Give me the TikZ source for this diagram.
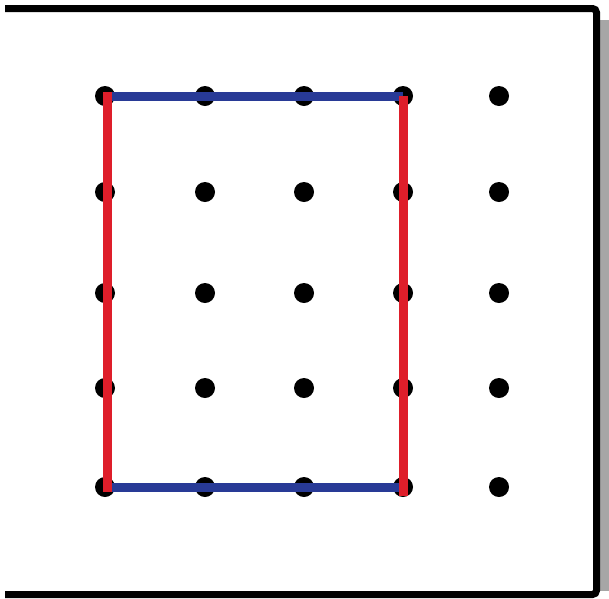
\documentclass[tikz,border=0pt]{standalone}
\usepackage{tikz}
\usetikzlibrary{positioning}
\definecolor{pegred}{RGB}{222,30,42}
\definecolor{pegblue}{RGB}{40,58,150}

\begin{document}
\begin{tikzpicture}[x=1pt,y=-1pt,peg/.style={circle,fill=black,inner sep=0pt,minimum size=20pt},redband/.style={draw=pegred,line width=9pt,line cap=rect},blueband/.style={draw=pegblue,line width=9pt}]
\useasboundingbox (0,0) rectangle (609,598);
% board
\fill[gray!70] (600,20) rectangle (609,591);
\draw[line width=7pt,rounded corners=4pt] (5,8.5) -- (596.5,8.5) -- (596.5,594.5) -- (5,594.5);
% pegs
\foreach \x [count=\i] in {105,205,304,403,499}
  \foreach \y [count=\j] in {96,192,293,388,487}
    \node[peg] (p\j\i) at (\x,\y) {};
% rubber band
\draw[blueband] (p11.center) -- (p14.center);
\draw[blueband] (p51.center) -- (p54.center);
\draw[redband] ([xshift=2pt]p11.center) -- ([xshift=2pt]p51.center);
\draw[redband] ([yshift=-4pt]p14.center) -- ([yshift=-4pt]p54.center);
\end{tikzpicture}
\end{document}
